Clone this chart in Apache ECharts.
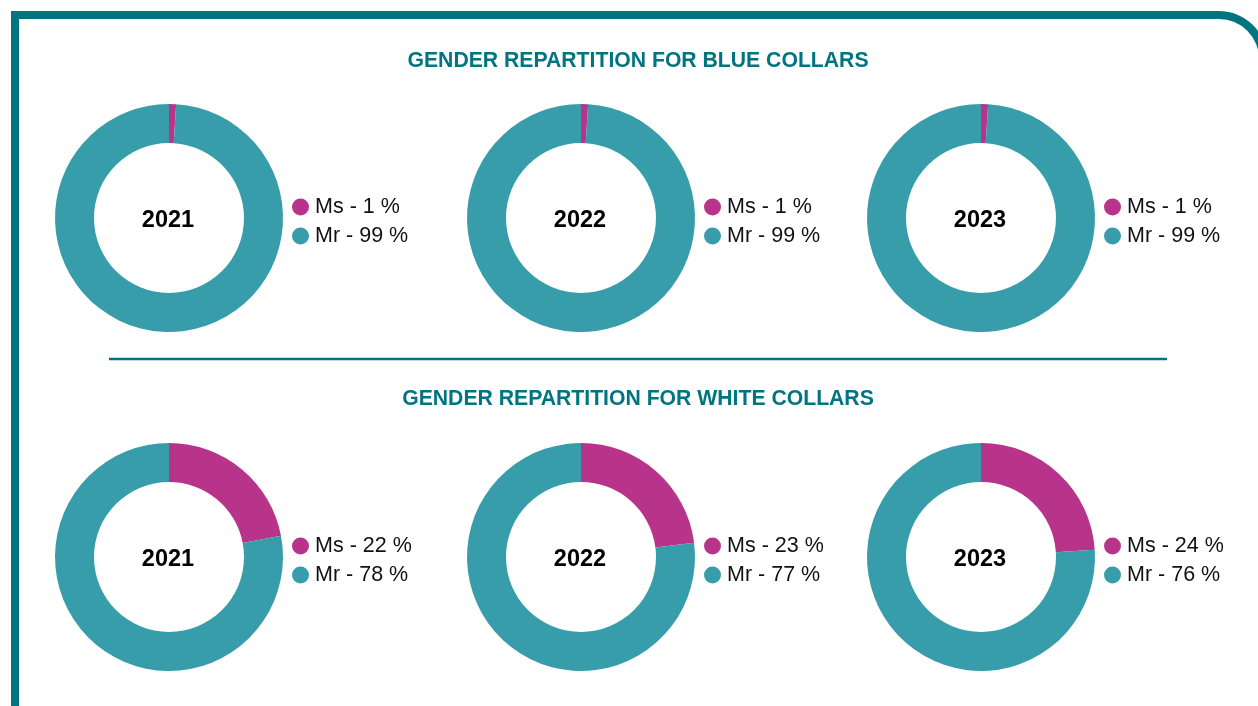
<!DOCTYPE html>
<html>
<head>
<meta charset="utf-8">
<script src="https://cdn.jsdelivr.net/npm/echarts@6/dist/echarts.min.js"></script>
<style>
  html, body { margin: 0; padding: 0; background: #fff; }
  #chart { width: 1258px; height: 706px; }
</style>
</head>
<body>
<div id="chart"></div>
<script>
// data
const years = ['2021', '2022', '2023']
const genders = ['Ms', 'Mr']
const blueMs = [1, 1, 1]
const blueMr = [99, 99, 99]
const whiteMs = [22, 23, 24]
const whiteMr = [78, 77, 76]
const sectionTitles = ['GENDER REPARTITION FOR BLUE COLLARS', 'GENDER REPARTITION FOR WHITE COLLARS']

const TEAL_DARK = '#007480'
const MS_COLOR = '#b8348a'
const MR_COLOR = '#389dab'
const FONT = "'Liberation Sans', Arial, Helvetica, sans-serif"

const colX = [169, 581, 981]
const rowY = [218, 557]
const legendX = [292, 704, 1104]

var chart = echarts.init(document.getElementById('chart'))

var series = []
var legends = []
var titles = []

var rows = [[blueMs, blueMr], [whiteMs, whiteMr]]

rows.forEach(function (row, r) {
  // section heading
  titles.push({
    text: sectionTitles[r],
    left: 638,
    top: r === 0 ? 61 : 399,
    padding: 0,
    textAlign: 'center',
    textVerticalAlign: 'middle',
    textStyle: { color: TEAL_DARK, fontSize: 21.2, fontWeight: 'bold', fontFamily: FONT }
  })
  years.forEach(function (year, c) {
    var ms = row[0][c]
    var mr = row[1][c]
    series.push({
      type: 'pie',
      name: year,
      center: [colX[c], rowY[r]],
      radius: [75, 114],
      startAngle: 90,
      clockwise: true,
      silent: true,
      label: { show: false },
      labelLine: { show: false },
      emphasis: { disabled: true },
      data: [
        { name: genders[0], value: ms, itemStyle: { color: MS_COLOR } },
        { name: genders[1], value: mr, itemStyle: { color: MR_COLOR } }
      ]
    })
    // year in the hole of the donut
    titles.push({
      text: year,
      left: colX[c] - 1,
      top: rowY[r] + 3,
      padding: 0,
      textAlign: 'center',
      textVerticalAlign: 'middle',
      textStyle: { color: '#000', fontSize: 23.5, fontWeight: 'bold', fontFamily: FONT }
    })
    var vals = { Ms: ms, Mr: mr }
    legends.push({
      orient: 'vertical',
      left: legendX[c],
      top: rowY[r] - 22,
      padding: 0,
      icon: 'circle',
      itemWidth: 17,
      itemHeight: 17,
      itemGap: 7,
      selectedMode: false,
      data: genders,
      textStyle: { color: '#111', fontSize: 21.5, fontFamily: FONT, padding: [0, 0, 0, 1] },
      formatter: function (name) {
        return name + ' - ' + vals[name] + ' %'
      }
    })
  })
})

var option = {
  animation: false,
  backgroundColor: '#fff',
  title: titles,
  legend: legends,
  series: series,
  graphic: [
    // frame: teal outer shape with a white one inside, right side runs off the page
    {
      type: 'rect',
      z: -10,
      shape: { x: 11, y: 11, width: 1256, height: 800, r: [0, 48, 0, 0] },
      style: { fill: TEAL_DARK },
      silent: true
    },
    {
      type: 'rect',
      z: -9,
      shape: { x: 19, y: 19, width: 1240, height: 800, r: [0, 40, 0, 0] },
      style: { fill: '#fff' },
      silent: true
    },
    {
      type: 'line',
      shape: { x1: 109, y1: 359, x2: 1167, y2: 359 },
      style: { stroke: TEAL_DARK, lineWidth: 2.5 },
      silent: true
    }
  ]
}

chart.setOption(option)
</script>
</body>
</html>
